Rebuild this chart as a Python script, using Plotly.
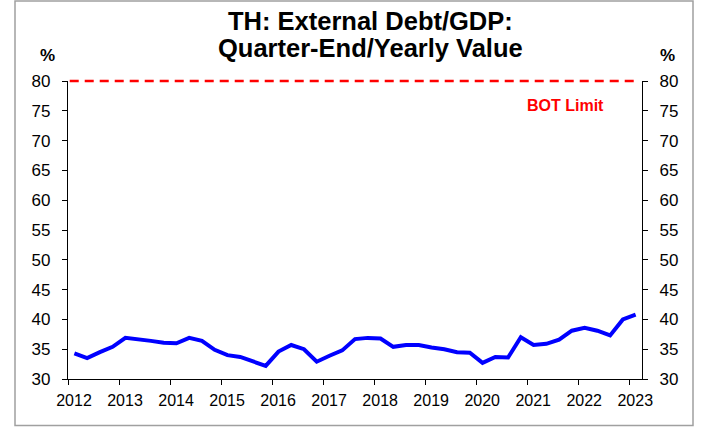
import plotly.graph_objects as go

# ---- data ----
start_year = 2012
n_quarters = 45  # 2012 Q1 .. 2023 Q1
quarter_labels = [f"{start_year + i // 4}-Q{i % 4 + 1}" for i in range(n_quarters)]
debt_gdp = [34.3, 33.5, 34.5, 35.4, 36.9, 36.7, 36.4, 36.1, 36.0, 36.9,
            36.4, 34.9, 34.0, 33.7, 33.0, 32.2, 34.6, 35.7, 35.0, 32.9,
            33.9, 34.8, 36.7, 36.9, 36.8, 35.4, 35.7, 35.7, 35.3, 35.0,
            34.5, 34.4, 32.7, 33.7, 33.6, 37.0, 35.7, 35.9, 36.6, 38.1,
            38.6, 38.1, 37.3, 40.0, 40.8]
bot_limit = 80
y_ticks = [30, 35, 40, 45, 50, 55, 60, 65, 70, 75, 80]
x_ticks = list(range(2012, 2024))

Y_MIN, Y_MAX = 30, 80

def q_to_year(lbl):
    y, q = lbl.split("-Q")
    return int(y) + (int(q) - 0.5) / 4

x_vals = [q_to_year(l) for l in quarter_labels]

FONT = "Arial, Liberation Sans, sans-serif"

W, H = 704, 427
L, R, T, B = 68, 62, 81, 48
pw, ph = W - L - R, H - T - B

def px_x(x):
    return (x - L) / pw

def px_y(y):
    return (H - B - y) / ph

fig = go.Figure()
fig.add_trace(go.Scatter(x=x_vals, y=debt_gdp, mode="lines",
                         line=dict(color="#0000FF", width=4),
                         showlegend=False, hoverinfo="skip"))
fig.add_trace(go.Scatter(x=[x_vals[0]], y=[debt_gdp[0]], yaxis="y2",
                         mode="markers", marker=dict(opacity=0),
                         showlegend=False, hoverinfo="skip"))

# BOT limit dashed line (paper-referenced so it is not clipped at the plot top)
limit_y = (bot_limit - Y_MIN) / (Y_MAX - Y_MIN)
fig.add_shape(type="line", xref="paper", yref="paper", x0=0.003, x1=0.99,
              y0=limit_y, y1=limit_y,
              line=dict(color="#FF0000", width=2.6, dash="9px,6px"), layer="above")

# outer border
fig.add_shape(type="rect", xref="paper", yref="paper",
              x0=px_x(15), x1=px_x(693), y0=px_y(425.5), y1=px_y(1),
              line=dict(color="#A0A0A0", width=1.5), layer="above")

ann = [
    dict(text="<b>TH: External Debt/GDP:</b>", x=px_x(370), y=px_y(20.5), size=25.5),
    dict(text="<b>Quarter-End/Yearly Value</b>", x=px_x(370), y=px_y(48), size=25.5),
    dict(text="<b>%</b>", x=px_x(47), y=px_y(55), size=17),
    dict(text="<b>%</b>", x=px_x(667), y=px_y(55), size=17),
    dict(text="<b>BOT Limit</b>", x=px_x(565.5), y=px_y(105.5), size=16, color="#FF0000"),
]
for a in ann:
    fig.add_annotation(text=a["text"], x=a["x"], y=a["y"], xref="paper", yref="paper",
                       xanchor="center", yanchor="middle", showarrow=False,
                       font=dict(family=FONT, size=a["size"], color=a.get("color", "#000000")))

axis_common = dict(showgrid=False, zeroline=False, showline=True, linecolor="#000000",
                   linewidth=1.3, ticks="outside", ticklen=5, tickcolor="#000000",
                   tickwidth=1.3, tickfont=dict(family=FONT, size=17, color="#000000"))

fig.update_layout(
    width=W, height=H,
    margin=dict(l=L, r=R, t=T, b=B, pad=0),
    paper_bgcolor="white", plot_bgcolor="white",
    xaxis=dict(range=[2012, 2023.25], tickvals=x_ticks, **{**axis_common,
               "tickfont": dict(family=FONT, size=16, color="#000000")},
               ticklabelstandoff=2, ticklabelshift=6),
    yaxis=dict(range=[Y_MIN, Y_MAX], tickvals=y_ticks, ticklabelstandoff=8, **axis_common),
    yaxis2=dict(range=[Y_MIN, Y_MAX], tickvals=y_ticks, overlaying="y", side="right",
                anchor="x", ticklabelstandoff=8, **axis_common),
)

fig.write_html("out.html", config={"displayModeBar": False},
               post_script="document.body.style.margin='0';document.body.style.overflow='hidden';")
